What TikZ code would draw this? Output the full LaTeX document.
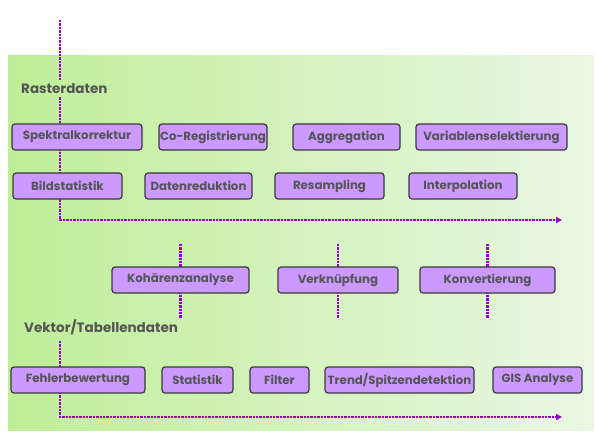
\documentclass[tikz,border=0pt]{standalone}
\usepackage{fontspec}
\setmainfont{Poppins}
\usetikzlibrary{arrows.meta,backgrounds}
\definecolor{boxfill}{HTML}{CC99FF}
\definecolor{boxline}{HTML}{3A3A3A}
\definecolor{txtgray}{HTML}{555555}
\definecolor{flowline}{HTML}{9900CC}
\definecolor{greenleft}{HTML}{BFEE98}
\definecolor{greenright}{HTML}{EAF7E4}
\tikzset{
  task/.style={draw=boxline, line width=1.2pt, fill=boxfill, rounded corners=3pt,
    minimum height=26pt, inner sep=0pt, text=txtgray, font=\bfseries\fontsize{11.8}{13}\selectfont},
  group/.style={text=txtgray, inner sep=3pt, font=\bfseries\fontsize{13.5}{15}\selectfont},
  flow/.style={draw=flowline, line width=2.6pt, dash pattern=on 2.4pt off 1pt},
}
\begin{document}
\begin{tikzpicture}[x=1pt, y=-1pt]
				\useasboundingbox (0,0) rectangle (596,437);
				\coordinate (rtop) at (60,20);
				\coordinate (rcorner) at (60,220);
				\coordinate (rend) at (562,220);
				\coordinate (vtop) at (60,341);
				\coordinate (vcorner) at (60,417);
				\coordinate (vend) at (562,417);
				\node[group, anchor=west] (raster) at (18,89) {Rasterdaten};
				\node[group, anchor=west] (vektor) at (21,327) {Vektor/Tabellendaten};
				\node[task, minimum width=130pt] (spek) at (77,137) {Spektralkorrektur};
				\node[task, minimum width=108pt] (coreg) at (213,137) {Co-Registrierung};
				\node[task, minimum width=107pt] (aggr) at (346.5,137) {Aggregation};
				\node[task, minimum width=151pt] (varsel) at (491.5,137) {Variablenselektierung};
				\node[task, minimum width=109pt] (bild) at (67.5,186) {Bildstatistik};
				\node[task, minimum width=107pt] (datred) at (198.5,186) {Datenreduktion};
				\node[task, minimum width=109pt] (resamp) at (329.5,186) {Resampling};
				\node[task, minimum width=108pt] (interp) at (463,186) {Interpolation};
				\node[task, minimum width=137pt] (koh) at (180.5,280) {Kohärenzanalyse};
				\node[task, minimum width=120pt] (verkn) at (338,280) {Verknüpfung};
				\node[task, minimum width=135pt] (konv) at (487.5,280) {Konvertierung};
				\node[task, minimum width=134pt] (fehler) at (78,380) {Fehlerbewertung};
				\node[task, minimum width=71pt] (stat) at (197.5,380) {Statistik};
				\node[task, minimum width=59pt] (filter) at (279.5,380) {Filter};
				\node[task, minimum width=149pt] (trend) at (399.5,380) {Trend/Spitzendetektion};
				\node[task, minimum width=89pt] (gis) at (537.5,380) {GIS Analyse};
				\begin{scope}[on background layer]
					\shade[left color=greenleft, right color=greenright] (8,55) rectangle (594,430);
					\draw[flow] (rtop) -- (rtop |- raster.north);
					\draw[flow, -{Triangle[length=6pt,width=6pt]}] (rtop |- raster.south) -- (rcorner) -- (rend);
					\draw[flow] (koh.center) ++(0,-36) -- ++(0,74);
					\draw[flow] (verkn.center) ++(0,-36) -- ++(0,74);
					\draw[flow] (konv.center) ++(0,-36) -- ++(0,74);
					\draw[flow, -{Triangle[length=6pt,width=6pt]}] (vtop) -- (vcorner) -- (vend);
				\end{scope}
			\end{tikzpicture}
\end{document}
